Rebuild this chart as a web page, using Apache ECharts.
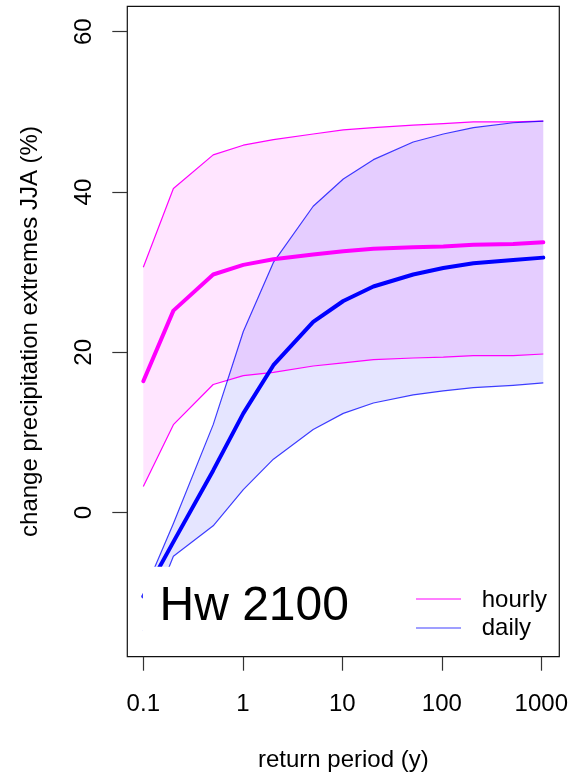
<!DOCTYPE html>
<html>
<head>
<meta charset="utf-8">
<script src="https://cdn.jsdelivr.net/npm/echarts@6/dist/echarts.min.js"></script>
<style>
html,body{margin:0;padding:0;background:#fff;}
#chart{width:571px;height:779px;}
</style>
</head>
<body>
<div id="chart"></div>
<script>
// return periods (years)
const periods = [0.1, 0.2, 0.5, 1, 2, 5, 10, 20, 50, 100, 200, 500, 1000];
// hourly change (%)
const hourlyUpper = [30.5, 40.3, 44.5, 45.7, 46.4, 47.1, 47.6, 47.9, 48.2, 48.4, 48.6, 48.6, 48.7];
const hourlyMean  = [16.3, 25.1, 29.6, 30.8, 31.5, 32.1, 32.5, 32.8, 33.0, 33.1, 33.3, 33.4, 33.6];
const hourlyLower = [3.2, 10.9, 15.9, 17.0, 17.4, 18.2, 18.6, 19.0, 19.2, 19.3, 19.5, 19.5, 19.7];
// daily change (%)
const dailyUpper = [-10.2, -1.4, 10.9, 22.5, 31.1, 38.1, 41.5, 43.9, 46.1, 47.1, 47.9, 48.5, 48.7];
const dailyMean  = [-10.5, -3.7, 5.2, 12.3, 18.3, 23.7, 26.3, 28.1, 29.6, 30.4, 31.0, 31.4, 31.7];
const dailyLower = [-14.8, -5.5, -1.7, 2.8, 6.6, 10.3, 12.3, 13.6, 14.6, 15.1, 15.5, 15.8, 16.1];
// tick labels
const xTicks = ['0.1', '1', '10', '100', '1000'];
const yTicks = [0, 20, 40, 60];

const FONT = 'Liberation Sans, Arial, Helvetica, sans-serif';
const MAGENTA = '#ff00ff';
const BLUE = '#0000ff';
const THIN_BLUE = 'rgba(0,0,255,0.75)';

function pairs(arr) { return periods.map((p, i) => [p, arr[i]]); }

function band(lower, upper, fill) {
  return {
    type: 'custom', xAxisIndex: 0, yAxisIndex: 0, z: 1, silent: true, clip: true,
    data: [[periods[0], upper[0]]],
    renderItem: function (params, api) {
      const pts = [];
      for (let i = 0; i < periods.length; i++) pts.push(api.coord([periods[i], upper[i]]));
      for (let i = periods.length - 1; i >= 0; i--) pts.push(api.coord([periods[i], lower[i]]));
      return { type: 'polygon', shape: { points: pts }, style: { fill: fill, stroke: null } };
    }
  };
}

function line(name, arr, color, width, cap) {
  return {
    type: 'line', name: name, xAxisIndex: 0, yAxisIndex: 0, z: 2, silent: true,
    data: pairs(arr), symbol: 'none', clip: true,
    lineStyle: { color: color, width: width, cap: cap, join: 'round' }
  };
}

const chart = echarts.init(document.getElementById('chart'), null, { renderer: 'canvas' });

const option = {
  animation: false,
  backgroundColor: '#fff',
  grid: [
    { left: 127.3, right: 11.7, top: 6.3, bottom: 122.3, show: true, borderColor: '#111', borderWidth: 1.2, backgroundColor: 'transparent' },
    { left: 143.3, right: 28, top: 31.7, bottom: 266.3, show: false }
  ],
  xAxis: [
    {
      gridIndex: 0, type: 'log', logBase: 10,
      min: Math.pow(10, -1.16), max: Math.pow(10, 3.16),
      axisLine: { show: false, onZero: false }, axisTick: { show: false }, axisLabel: { show: false }, splitLine: { show: false },
      name: 'return period (y)', nameLocation: 'middle', nameGap: 104,
      nameTextStyle: { fontFamily: FONT, fontSize: 24, color: '#000', verticalAlign: 'middle' }
    },
    {
      gridIndex: 1, type: 'log', logBase: 10, min: 0.1, max: 1000, position: 'bottom', offset: 144,
      axisLine: { show: false, onZero: false },
      axisTick: { show: true, inside: false, length: 14, lineStyle: { color: '#333', width: 1.2 } },
      axisLabel: {
        show: true, margin: 48, fontFamily: FONT, fontSize: 24, color: '#000', verticalAlign: 'middle',
        showMinLabel: true, showMaxLabel: true,
        formatter: function (v) {
          const e = Math.round(Math.log10(v));
          return xTicks[e + 1];
        }
      },
      splitLine: { show: false }
    }
  ],
  yAxis: [
    {
      gridIndex: 0, type: 'value', min: -18, max: 63,
      axisLine: { show: false, onZero: false }, axisTick: { show: false }, axisLabel: { show: false }, splitLine: { show: false },
      name: 'change precipitation extremes JJA (%)', nameLocation: 'middle', nameGap: 97.3, nameRotate: 90,
      nameTextStyle: { fontFamily: FONT, fontSize: 24, color: '#000', verticalAlign: 'middle' }
    },
    {
      gridIndex: 1, type: 'value', min: yTicks[0], max: yTicks[yTicks.length - 1], interval: 20,
      position: 'left', offset: 16,
      axisLine: { show: false, onZero: false },
      axisTick: { show: true, inside: false, length: 15, lineStyle: { color: '#333', width: 1.2 } },
      axisLabel: { show: true, rotate: 90, margin: 43.3, fontFamily: FONT, fontSize: 24, color: '#000', verticalAlign: 'middle', align: 'center' },
      splitLine: { show: false }
    }
  ],
  series: [
    band(hourlyLower, hourlyUpper, 'rgba(255,0,255,0.1)'),
    band(dailyLower, dailyUpper, 'rgba(0,0,255,0.1)'),
    line('hourly', hourlyUpper, MAGENTA, 1.2, 'butt'),
    line('hourly lower', hourlyLower, MAGENTA, 1.2, 'butt'),
    line('daily', dailyUpper, THIN_BLUE, 1.2, 'butt'),
    line('daily lower', dailyLower, THIN_BLUE, 1.2, 'butt'),
    line('hourly mean', hourlyMean, MAGENTA, 4, 'round'),
    line('daily mean', dailyMean, BLUE, 4, 'round')
  ],
  graphic: [
    { type: 'rect', z: 100, silent: true, shape: { x: 142.8, y: 566.7, width: 400, height: 89 }, style: { fill: '#fff' } },
    { type: 'text', z: 101, silent: true, x: 159.5, y: 606.6,
      style: { text: 'Hw 2100', fontFamily: FONT, fontSize: 48, fill: '#000', align: 'left', verticalAlign: 'middle' } },
    { type: 'line', z: 101, silent: true, shape: { x1: 416, y1: 599, x2: 461, y2: 599 }, style: { stroke: MAGENTA, lineWidth: 1.2 } },
    { type: 'line', z: 101, silent: true, shape: { x1: 416, y1: 628, x2: 461, y2: 628 }, style: { stroke: THIN_BLUE, lineWidth: 1.2 } },
    { type: 'text', z: 101, silent: true, x: 481.7, y: 600,
      style: { text: 'hourly', fontFamily: FONT, fontSize: 24, fill: '#000', align: 'left', verticalAlign: 'middle' } },
    { type: 'text', z: 101, silent: true, x: 481.7, y: 628.4,
      style: { text: 'daily', fontFamily: FONT, fontSize: 24, fill: '#000', align: 'left', verticalAlign: 'middle' } }
  ]
};
chart.setOption(option);
</script>
</body>
</html>
